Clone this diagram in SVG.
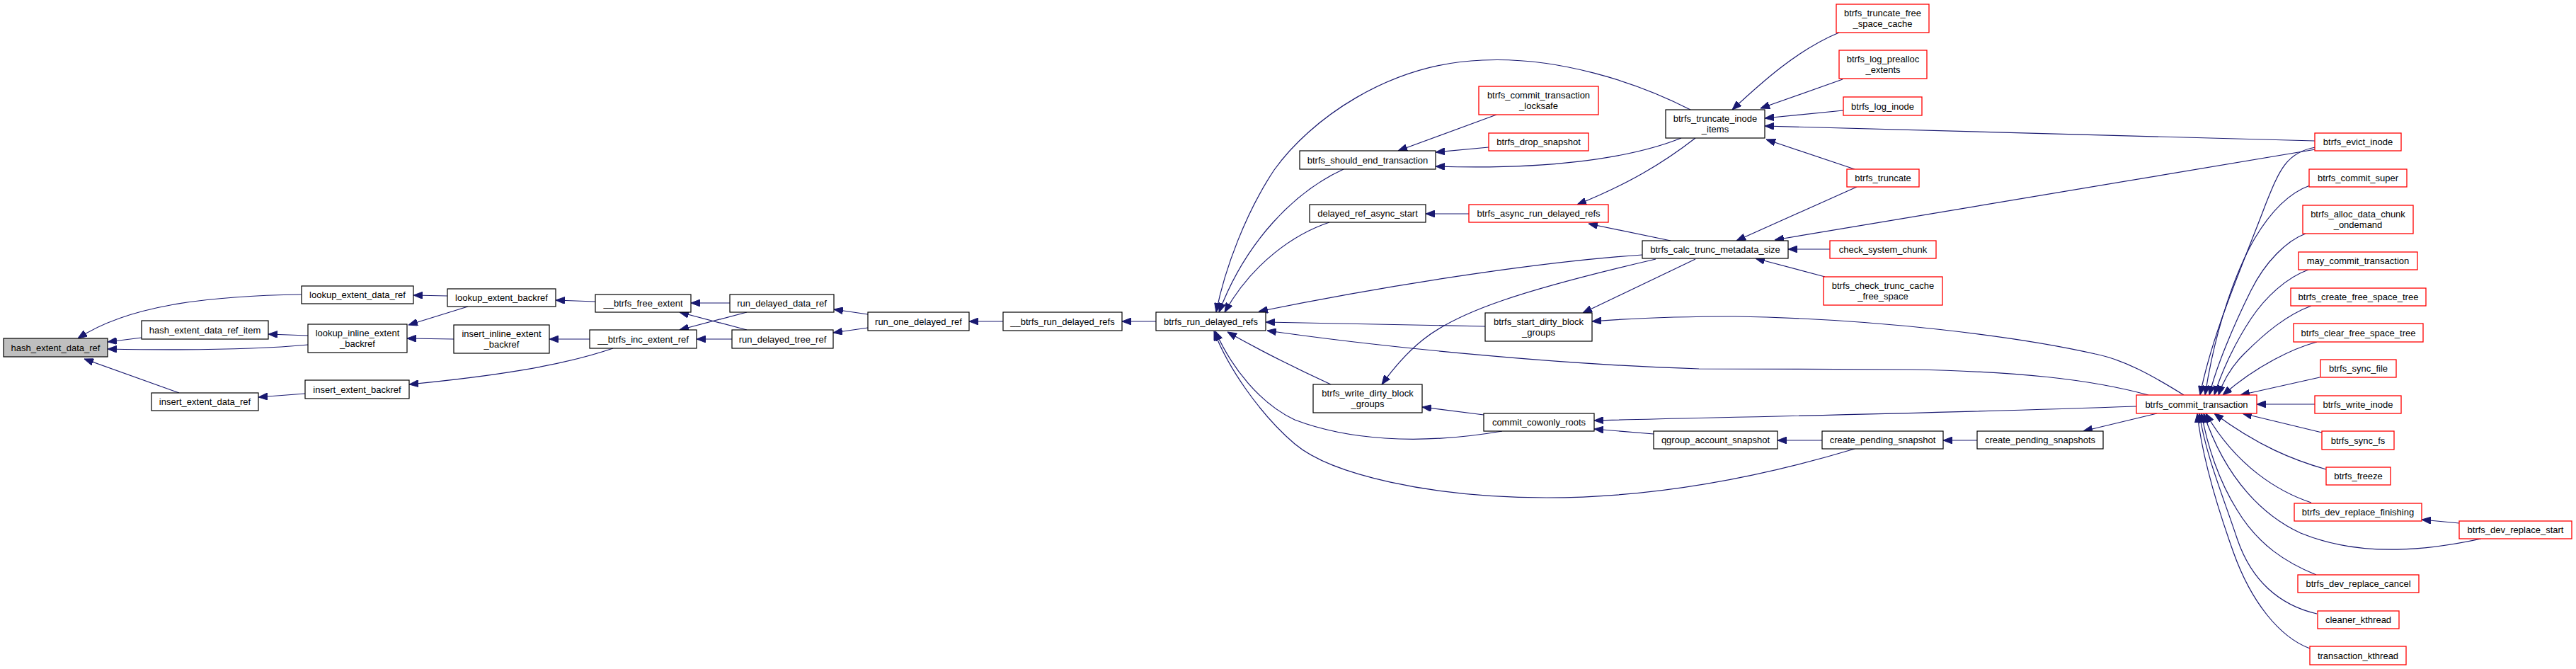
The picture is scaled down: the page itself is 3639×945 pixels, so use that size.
<svg xmlns="http://www.w3.org/2000/svg" width="3639" height="945" viewBox="0 0 3639 945">
<style>
.n rect{fill:#fff;stroke:#000;stroke-width:1.2}
.r rect{fill:#fff;stroke:#f00;stroke-width:1.3}
.root rect{fill:#bfbfbf;stroke:#000;stroke-width:1.2}
text{font-family:"Liberation Sans",Arial,sans-serif;font-size:13px;fill:#000;text-anchor:middle}
#edges path{fill:none;stroke:#191970;stroke-width:1.2;marker-end:url(#arr)}
</style>
<defs>
<marker id="arr" viewBox="0 0 13 10" markerWidth="13" markerHeight="10" refX="13" refY="5" orient="auto" markerUnits="userSpaceOnUse">
<path d="M0,0 L13,5 L0,10 z" fill="#191970" stroke="#191970" stroke-width="1"/>
</marker>
</defs>
<rect width="3639" height="945" fill="#fff"/>
<g id="edges">
<path d="M426,416 C290,418 180,432 110,478"/>
<path d="M200,477 L152,483"/>
<path d="M435,474 L379,472"/>
<path d="M435,487 C360,494 260,495 152,493"/>
<path d="M253,555 L119,507"/>
<path d="M431,556 L365,561"/>
<path d="M632,418 L584,417"/>
<path d="M661,433 L577,459"/>
<path d="M641,479 L575,478"/>
<path d="M841,426 L785,424"/>
<path d="M833,479 L776,479"/>
<path d="M866,492 C790,518 690,532 578,543"/>
<path d="M1031,428 L976,428"/>
<path d="M1055,466 L960,441"/>
<path d="M1055,441 L960,466"/>
<path d="M1034,479 L984,479"/>
<path d="M1226,444 L1178,437"/>
<path d="M1226,463 L1177,470"/>
<path d="M1417,454 L1369,454"/>
<path d="M1633,454 L1585,454"/>
<path d="M2388,155 C2310,115 2200,80 2094,85 C1960,90 1850,170 1800,240 C1760,300 1730,380 1718,441"/>
<path d="M1898,239 C1830,270 1760,340 1722,441"/>
<path d="M1878,314 C1830,330 1770,370 1730,441"/>
<path d="M2320,360 C2200,368 2000,395 1778,440"/>
<path d="M2098,461 L1788,455"/>
<path d="M3035,558 C2950,535 2850,525 2700,522 L2400,521 C2200,515 1950,490 1790,467"/>
<path d="M1880,543 C1830,520 1780,495 1734,469"/>
<path d="M2122,609 C2000,630 1900,620 1829,593 C1780,570 1740,520 1717,468"/>
<path d="M2620,634 C2480,676 2330,703 2185,703 C2020,703 1880,670 1829,627 C1780,585 1735,520 1715,468"/>
<path d="M2114,162 L1975,213"/>
<path d="M2103,208 L2028,215"/>
<path d="M2375,195 C2300,225 2180,240 2028,235"/>
<path d="M2598,46 C2540,70 2490,115 2447,155"/>
<path d="M2603,112 L2487,153"/>
<path d="M2604,156 L2493,167"/>
<path d="M3270,199 L2493,178"/>
<path d="M2620,239 L2495,197"/>
<path d="M2395,195 C2350,230 2300,260 2228,289"/>
<path d="M2360,340 L2244,316"/>
<path d="M2075,302 L2014,302"/>
<path d="M2623,264 L2453,340"/>
<path d="M3271,211 L2507,339"/>
<path d="M2585,352 L2526,352"/>
<path d="M2578,391 L2480,365"/>
<path d="M2339,366 C2150,410 2060,440 2010,480 C1985,500 1965,525 1952,543"/>
<path d="M2395,366 L2236,442"/>
<path d="M3085,558 C3040,530 3000,508 2960,500 C2850,475 2650,450 2450,447 C2380,447 2300,450 2249,454"/>
<path d="M3018,574 C2700,585 2400,590 2252,594"/>
<path d="M2336,613 L2252,606"/>
<path d="M2096,586 L2009,575"/>
<path d="M3047,584 L2943,609"/>
<path d="M2793,622 L2745,622"/>
<path d="M2574,622 L2511,622"/>
<path d="M3271,208 C3230,215 3220,240 3200,290 C3170,370 3125,470 3108,558"/>
<path d="M3263,262 C3235,272 3210,295 3185,337 C3160,380 3130,460 3115,558"/>
<path d="M3257,330 C3230,340 3200,370 3180,410 C3155,460 3130,520 3121,558"/>
<path d="M3261,381 C3230,392 3200,420 3180,450 C3160,480 3140,520 3128,558"/>
<path d="M3265,432 C3230,445 3200,470 3170,500 C3150,520 3140,540 3134,558"/>
<path d="M3273,483 C3240,492 3190,515 3140,558"/>
<path d="M3277,533 L3165,558"/>
<path d="M3270,571 L3188,571"/>
<path d="M3280,611 L3168,584"/>
<path d="M3286,663 C3240,650 3190,630 3128,584"/>
<path d="M3265,710 C3220,695 3160,660 3116,584"/>
<path d="M3505,761 C3440,775 3340,790 3250,753 C3200,730 3145,680 3113,584"/>
<path d="M3272,812 C3230,795 3190,770 3160,720 C3135,680 3118,630 3110,584"/>
<path d="M3273,867 C3220,855 3180,820 3160,760 C3140,700 3115,640 3107,584"/>
<path d="M3263,916 C3220,900 3180,850 3155,780 C3130,710 3110,640 3104,584"/>
<path d="M3474,739 L3421,734"/>
</g>
<g id="hash_extent_data_ref" class="root"><rect x="5" y="478" width="147" height="26"/><text x="78.5" y="495.5">hash_extent_data_ref</text></g>
<g id="hash_extent_data_ref_item" class="n"><rect x="200" y="453" width="179" height="26"/><text x="289.5" y="470.5">hash_extent_data_ref_item</text></g>
<g id="lookup_extent_data_ref" class="n"><rect x="426" y="404" width="158" height="25"/><text x="505" y="421">lookup_extent_data_ref</text></g>
<g id="lookup_inline_extent_backref" class="n"><rect x="435" y="458" width="140" height="40"/><text x="505" y="475">lookup_inline_extent</text><text x="505" y="490">_backref</text></g>
<g id="insert_extent_data_ref" class="n"><rect x="214" y="555" width="151" height="25"/><text x="289.5" y="572">insert_extent_data_ref</text></g>
<g id="insert_extent_backref" class="n"><rect x="431" y="537" width="147" height="26"/><text x="504.5" y="554.5">insert_extent_backref</text></g>
<g id="lookup_extent_backref" class="n"><rect x="632" y="408" width="153" height="25"/><text x="708.5" y="425">lookup_extent_backref</text></g>
<g id="insert_inline_extent_backref" class="n"><rect x="641" y="459" width="135" height="40"/><text x="708.5" y="476">insert_inline_extent</text><text x="708.5" y="491">_backref</text></g>
<g id="__btrfs_free_extent" class="n"><rect x="841" y="416" width="135" height="25"/><text x="908.5" y="433">__btrfs_free_extent</text></g>
<g id="__btrfs_inc_extent_ref" class="n"><rect x="833" y="466" width="151" height="26"/><text x="908.5" y="483.5">__btrfs_inc_extent_ref</text></g>
<g id="run_delayed_data_ref" class="n"><rect x="1031" y="416" width="147" height="25"/><text x="1104.5" y="433">run_delayed_data_ref</text></g>
<g id="run_delayed_tree_ref" class="n"><rect x="1034" y="466" width="143" height="26"/><text x="1105.5" y="483.5">run_delayed_tree_ref</text></g>
<g id="run_one_delayed_ref" class="n"><rect x="1226" y="441" width="143" height="26"/><text x="1297.5" y="458.5">run_one_delayed_ref</text></g>
<g id="__btrfs_run_delayed_refs" class="n"><rect x="1417" y="441" width="168" height="26"/><text x="1501" y="458.5">__btrfs_run_delayed_refs</text></g>
<g id="btrfs_run_delayed_refs" class="n"><rect x="1633" y="441" width="155" height="26"/><text x="1710.5" y="458.5">btrfs_run_delayed_refs</text></g>
<g id="btrfs_should_end_transaction" class="n"><rect x="1836" y="213" width="192" height="26"/><text x="1932" y="230.5">btrfs_should_end_transaction</text></g>
<g id="delayed_ref_async_start" class="n"><rect x="1850" y="289" width="164" height="25"/><text x="1932" y="306">delayed_ref_async_start</text></g>
<g id="btrfs_write_dirty_block_groups" class="n"><rect x="1855" y="543" width="154" height="40"/><text x="1932" y="560">btrfs_write_dirty_block</text><text x="1932" y="575">_groups</text></g>
<g id="btrfs_commit_transaction_locksafe" class="r"><rect x="2089" y="122" width="169" height="40"/><text x="2173.5" y="139">btrfs_commit_transaction</text><text x="2173.5" y="154">_locksafe</text></g>
<g id="btrfs_drop_snapshot" class="r"><rect x="2103" y="188" width="141" height="25"/><text x="2173.5" y="205">btrfs_drop_snapshot</text></g>
<g id="btrfs_async_run_delayed_refs" class="r"><rect x="2075" y="289" width="197" height="25"/><text x="2173.5" y="306">btrfs_async_run_delayed_refs</text></g>
<g id="btrfs_start_dirty_block_groups" class="n"><rect x="2098" y="442" width="151" height="40"/><text x="2173.5" y="459">btrfs_start_dirty_block</text><text x="2173.5" y="474">_groups</text></g>
<g id="commit_cowonly_roots" class="n"><rect x="2096" y="584" width="156" height="25"/><text x="2174" y="601">commit_cowonly_roots</text></g>
<g id="btrfs_truncate_inode_items" class="n"><rect x="2353" y="155" width="140" height="40"/><text x="2423" y="172">btrfs_truncate_inode</text><text x="2423" y="187">_items</text></g>
<g id="btrfs_calc_trunc_metadata_size" class="n"><rect x="2320" y="340" width="206" height="25"/><text x="2423" y="357">btrfs_calc_trunc_metadata_size</text></g>
<g id="qgroup_account_snapshot" class="n"><rect x="2336" y="609" width="175" height="25"/><text x="2423.5" y="626">qgroup_account_snapshot</text></g>
<g id="create_pending_snapshot" class="n"><rect x="2574" y="609" width="171" height="25"/><text x="2659.5" y="626">create_pending_snapshot</text></g>
<g id="btrfs_truncate_free_space_cache" class="r"><rect x="2594" y="6" width="131" height="40"/><text x="2659.5" y="23">btrfs_truncate_free</text><text x="2659.5" y="38">_space_cache</text></g>
<g id="btrfs_log_prealloc_extents" class="r"><rect x="2598" y="71" width="124" height="40"/><text x="2660" y="88">btrfs_log_prealloc</text><text x="2660" y="103">_extents</text></g>
<g id="btrfs_log_inode" class="r"><rect x="2604" y="137" width="111" height="26"/><text x="2659.5" y="154.5">btrfs_log_inode</text></g>
<g id="btrfs_truncate" class="r"><rect x="2609" y="239" width="102" height="25"/><text x="2660" y="256">btrfs_truncate</text></g>
<g id="check_system_chunk" class="r"><rect x="2585" y="340" width="150" height="25"/><text x="2660" y="357">check_system_chunk</text></g>
<g id="btrfs_check_trunc_cache_free_space" class="r"><rect x="2576" y="391" width="168" height="40"/><text x="2660" y="408">btrfs_check_trunc_cache</text><text x="2660" y="423">_free_space</text></g>
<g id="create_pending_snapshots" class="n"><rect x="2793" y="609" width="178" height="25"/><text x="2882" y="626">create_pending_snapshots</text></g>
<g id="btrfs_commit_transaction" class="r"><rect x="3018" y="558" width="170" height="26"/><text x="3103" y="575.5">btrfs_commit_transaction</text></g>
<g id="btrfs_evict_inode" class="r"><rect x="3270" y="188" width="122" height="25"/><text x="3331" y="205">btrfs_evict_inode</text></g>
<g id="btrfs_commit_super" class="r"><rect x="3262" y="239" width="138" height="25"/><text x="3331" y="256">btrfs_commit_super</text></g>
<g id="btrfs_alloc_data_chunk_ondemand" class="r"><rect x="3253" y="290" width="156" height="40"/><text x="3331" y="307">btrfs_alloc_data_chunk</text><text x="3331" y="322">_ondemand</text></g>
<g id="may_commit_transaction" class="r"><rect x="3247" y="356" width="168" height="25"/><text x="3331" y="373">may_commit_transaction</text></g>
<g id="btrfs_create_free_space_tree" class="r"><rect x="3236" y="407" width="191" height="25"/><text x="3331.5" y="424">btrfs_create_free_space_tree</text></g>
<g id="btrfs_clear_free_space_tree" class="r"><rect x="3240" y="457" width="183" height="26"/><text x="3331.5" y="474.5">btrfs_clear_free_space_tree</text></g>
<g id="btrfs_sync_file" class="r"><rect x="3278" y="508" width="107" height="25"/><text x="3331.5" y="525">btrfs_sync_file</text></g>
<g id="btrfs_write_inode" class="r"><rect x="3270" y="559" width="122" height="25"/><text x="3331" y="576">btrfs_write_inode</text></g>
<g id="btrfs_sync_fs" class="r"><rect x="3280" y="609" width="102" height="26"/><text x="3331" y="626.5">btrfs_sync_fs</text></g>
<g id="btrfs_freeze" class="r"><rect x="3286" y="660" width="91" height="25"/><text x="3331.5" y="677">btrfs_freeze</text></g>
<g id="btrfs_dev_replace_finishing" class="r"><rect x="3241" y="711" width="180" height="25"/><text x="3331" y="728">btrfs_dev_replace_finishing</text></g>
<g id="btrfs_dev_replace_start" class="r"><rect x="3474" y="736" width="159" height="25"/><text x="3553.5" y="753">btrfs_dev_replace_start</text></g>
<g id="btrfs_dev_replace_cancel" class="r"><rect x="3246" y="812" width="171" height="25"/><text x="3331.5" y="829">btrfs_dev_replace_cancel</text></g>
<g id="cleaner_kthread" class="r"><rect x="3274" y="863" width="115" height="25"/><text x="3331.5" y="880">cleaner_kthread</text></g>
<g id="transaction_kthread" class="r"><rect x="3263" y="913" width="136" height="26"/><text x="3331" y="930.5">transaction_kthread</text></g>
</svg>
